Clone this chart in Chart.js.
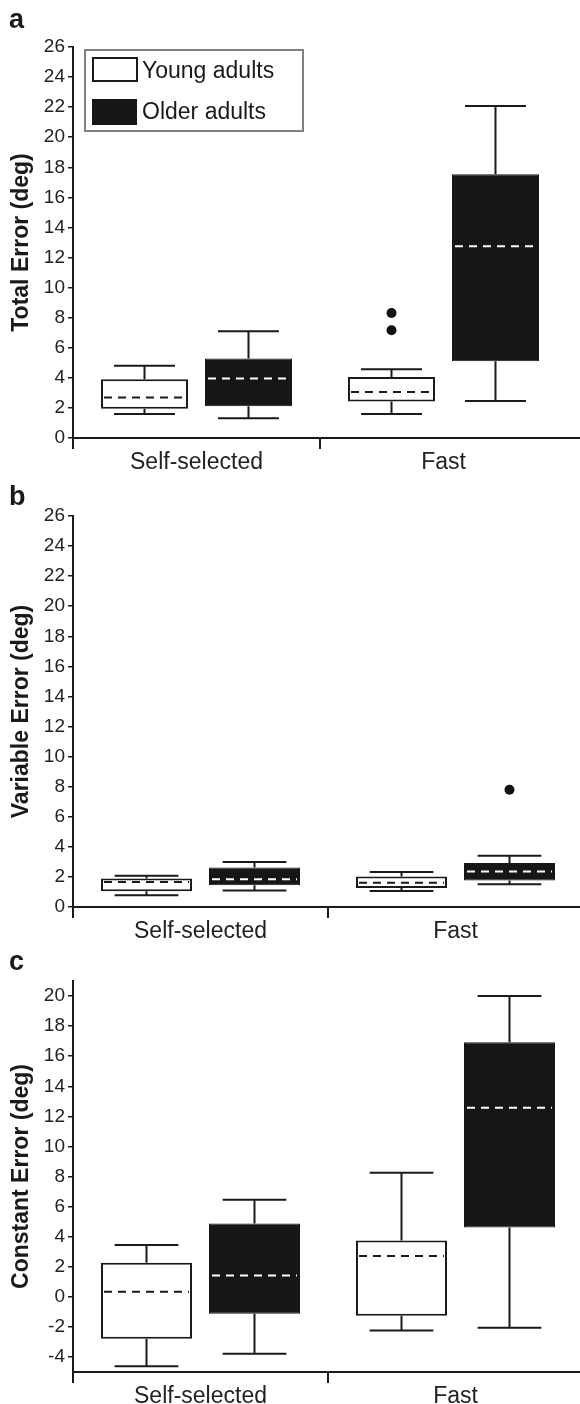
<!DOCTYPE html>
<html>
<head>
  <title>Total, variable and constant error</title>
  <script src="https://cdn.jsdelivr.net/npm/chart.js"></script>
  <style>
    body {
      margin: 0;
      background: #fff;
    }
    #wrap {
      position: relative;
      width: 580px;
      height: 1404px;
      overflow: hidden;
    }
    canvas {
      position: absolute;
      left: 0;
    }
  </style>
</head>
<body>
  <div id="wrap">
    <canvas id="chartA" width="580" height="475" style="top:0px"></canvas>
    <canvas id="chartB" width="590" height="466" style="top:478px"></canvas>
    <canvas id="chartC" width="590" height="459" style="top:945px"></canvas>
  </div>

  <script>
    var categories = ["Self-selected", "Fast"];
    var groups = ["Young adults", "Older adults"];

    // every box: [min, q1, median, q3, max], one per category
    var totalYoung = [[1.6, 1.95, 2.7, 3.9, 4.8], [1.6, 2.42, 3.06, 4.06, 4.57]];
    var totalOlder = [[1.31, 2.11, 3.95, 5.28, 7.1], [2.46, 5.1, 12.75, 17.54, 22.07]];
    var totalYoungOut = [[], [7.16, 8.31]];
    var totalOlderOut = [[], []];

    var variableYoung = [[0.78, 1.04, 1.67, 1.89, 2.07], [1.07, 1.27, 1.62, 2.02, 2.33]];
    var variableOlder = [[1.09, 1.44, 1.84, 2.62, 3.0], [1.51, 1.76, 2.36, 2.93, 3.4]];
    var variableYoungOut = [[], []];
    var variableOlderOut = [[], [7.8]];

    var constantYoung = [[-4.61, -2.79, 0.33, 2.26, 3.44], [-2.24, -1.26, 2.71, 3.75, 8.25]];
    var constantOlder = [[-3.79, -1.13, 1.42, 4.88, 6.45], [-2.06, 4.61, 12.57, 16.92, 20.0]];
    var constantYoungOut = [[], []];
    var constantOlderOut = [[], []];

    var ticksError = [0, 2, 4, 6, 8, 10, 12, 14, 16, 18, 20, 22, 24, 26];
    var ticksConstant = [-4, -2, 0, 2, 4, 6, 8, 10, 12, 14, 16, 18, 20];

    Chart.defaults.font.family = '"Liberation Sans", Arial, Helvetica, sans-serif';
    var ink = "#1a1a1a";

    // whiskers, dashed medians and outlier dots on top of the floating bars
    var boxPlugin = {
      id: "boxPlot",
      afterDatasetsDraw: function(chart) {
        var ctx = chart.ctx;
        var y = chart.scales.y;
        chart.data.datasets.forEach(function(ds, d) {
          var meta = chart.getDatasetMeta(d);
          meta.data.forEach(function(bar, i) {
            var s = ds.stats[i];
            var half = bar.width / 2;
            var cap = bar.width * 0.35;
            var hi = y.getPixelForValue(s[4]);
            var q3 = y.getPixelForValue(s[3]);
            var med = y.getPixelForValue(s[2]);
            var q1 = y.getPixelForValue(s[1]);
            var lo = y.getPixelForValue(s[0]);
            ctx.save();
            ctx.strokeStyle = ink;
            ctx.lineWidth = 2;
            ctx.beginPath();
            ctx.moveTo(bar.x, q3);
            ctx.lineTo(bar.x, hi);
            ctx.moveTo(bar.x - cap, hi);
            ctx.lineTo(bar.x + cap, hi);
            ctx.moveTo(bar.x, q1);
            ctx.lineTo(bar.x, lo);
            ctx.moveTo(bar.x - cap, lo);
            ctx.lineTo(bar.x + cap, lo);
            ctx.stroke();

            ctx.setLineDash([8, 6]);
            ctx.strokeStyle = ds.medianColor;
            ctx.beginPath();
            ctx.moveTo(bar.x - half + 3, med);
            ctx.lineTo(bar.x + half - 3, med);
            ctx.stroke();
            ctx.setLineDash([]);

            ctx.fillStyle = "#111";
            ds.outliers[i].forEach(function(v) {
              ctx.beginPath();
              ctx.arc(bar.x, y.getPixelForValue(v), 5, 0, Math.PI * 2);
              ctx.fill();
            });
            ctx.restore();
          });
        });
      }
    };

    // panel letter, the x axis line run out to the edge, and the framed legend of panel a
    var panelPlugin = {
      id: "panel",
      afterDraw: function(chart, args, opts) {
        var ctx = chart.ctx;
        var area = chart.chartArea;
        ctx.save();
        ctx.strokeStyle = ink;
        ctx.lineWidth = 2;
        ctx.beginPath();
        ctx.moveTo(area.right - 1, Math.round(area.bottom));
        ctx.lineTo(chart.width, Math.round(area.bottom));
        ctx.stroke();

        ctx.fillStyle = ink;
        ctx.font = "bold 27px " + Chart.defaults.font.family;
        ctx.textBaseline = "alphabetic";
        ctx.fillText(opts.letter, 9, opts.letterY);

        if (opts.legend) {
          ctx.fillStyle = "#fff";
          ctx.fillRect(85, 50, 218, 81);
          ctx.strokeStyle = "#808080";
          ctx.lineWidth = 2;
          ctx.strokeRect(85, 50, 218, 81);

          ctx.fillStyle = "#fff";
          ctx.fillRect(93, 58, 44, 23);
          ctx.strokeStyle = ink;
          ctx.strokeRect(93, 58, 44, 23);
          ctx.fillStyle = "#161616";
          ctx.fillRect(92, 99, 45, 26);

          ctx.fillStyle = ink;
          ctx.font = "23px " + Chart.defaults.font.family;
          ctx.textBaseline = "middle";
          ctx.fillText(groups[0], 142, 72);
          ctx.fillText(groups[1], 142, 113);
        }
        ctx.restore();
      }
    };

    function makeChart(id, p) {
      var ctx = document.getElementById(id).getContext("2d");
      return new Chart(ctx, {
        type: "bar",
        data: {
          labels: categories,
          datasets: [{
            label: groups[0],
            data: p.young.map(function(s) { return [s[1], s[3]]; }),
            stats: p.young,
            outliers: p.youngOut,
            medianColor: ink,
            backgroundColor: "#ffffff",
            borderColor: ink,
            borderWidth: 2,
            borderSkipped: false,
            categoryPercentage: p.catPct,
            barPercentage: p.barPct
          }, {
            label: groups[1],
            data: p.older.map(function(s) { return [s[1], s[3]]; }),
            stats: p.older,
            outliers: p.olderOut,
            medianColor: "#ffffff",
            backgroundColor: "#161616",
            borderColor: "#161616",
            borderWidth: 1,
            borderSkipped: false,
            categoryPercentage: p.catPct,
            barPercentage: p.barPct
          }]
        },
        options: {
          responsive: false,
          animation: false,
          events: [],
          layout: {
            padding: { top: p.padTop, right: p.padRight, bottom: 0, left: 0 }
          },
          plugins: {
            legend: { display: false },
            tooltip: { enabled: false },
            panel: { letter: p.letter, letterY: p.letterY, legend: p.legend }
          },
          scales: {
            x: {
              type: "category",
              offset: true,
              afterFit: function(axis) { axis.height = p.xHeight; },
              border: { display: true, color: ink, width: 2 },
              grid: {
                display: true,
                offset: true,
                drawOnChartArea: false,
                drawTicks: true,
                tickLength: 11,
                lineWidth: 2,
                color: function(c) { return c.type === "tick" ? ink : "rgba(0,0,0,0)"; }
              },
              ticks: {
                color: "#222",
                font: { size: 23 },
                padding: 0,
                maxRotation: 0
              }
            },
            y: {
              min: p.yMin,
              max: p.yMax,
              afterFit: function(axis) { axis.width = 73; },
              afterBuildTicks: function(axis) {
                axis.ticks = p.ticks.map(function(v) { return { value: v }; });
              },
              border: { display: true, color: ink, width: 2 },
              grid: {
                display: true,
                drawOnChartArea: false,
                drawTicks: true,
                tickLength: 5,
                lineWidth: 1.5,
                color: ink
              },
              ticks: {
                color: "#222",
                font: { size: 19 },
                padding: 3,
                autoSkip: false
              },
              title: {
                display: true,
                text: p.title,
                color: ink,
                font: { size: 23, weight: "bold" },
                padding: { top: 8, bottom: 0 }
              }
            }
          }
        },
        plugins: [boxPlugin, panelPlugin]
      });
    }

    makeChart("chartA", {
      young: totalYoung, older: totalOlder,
      youngOut: totalYoungOut, olderOut: totalOlderOut,
      yMin: 0, yMax: 26, ticks: ticksError,
      title: "Total Error (deg)", letter: "a", letterY: 28, legend: true,
      padTop: 47, padRight: 13, xHeight: 37,
      catPct: 0.842, barPct: 0.837
    });

    makeChart("chartB", {
      young: variableYoung, older: variableOlder,
      youngOut: variableYoungOut, olderOut: variableOlderOut,
      yMin: 0, yMax: 26, ticks: ticksError,
      title: "Variable Error (deg)", letter: "b", letterY: 27, legend: false,
      padTop: 38, padRight: 7, xHeight: 37,
      catPct: 0.847, barPct: 0.843
    });

    makeChart("chartC", {
      young: constantYoung, older: constantOlder,
      youngOut: constantYoungOut, olderOut: constantOlderOut,
      yMin: -5, yMax: 21, ticks: ticksConstant,
      title: "Constant Error (deg)", letter: "c", letterY: 25, legend: false,
      padTop: 36, padRight: 7, xHeight: 32,
      catPct: 0.847, barPct: 0.843
    });
  </script>
</body>
</html>
